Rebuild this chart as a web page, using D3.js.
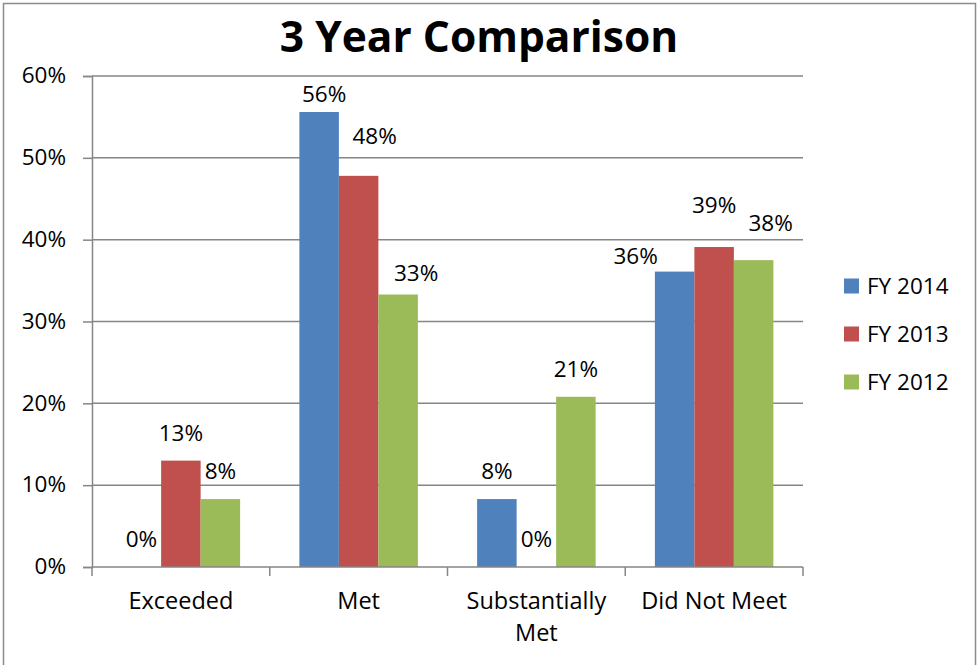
<!DOCTYPE html>
<html>
<head>
<meta charset="utf-8">
<script src="https://cdn.jsdelivr.net/npm/d3@7"></script>
<style>
  body { margin: 0; background: #fff; }
  svg { display: block; font-family: "Open Sans", sans-serif; }
</style>
</head>
<body>
<div id="chart"></div>
<script>
// data
const categories = ["Exceeded", "Met", "Substantially Met", "Did Not Meet"];
const seriesNames = ["FY 2014", "FY 2013", "FY 2012"];
const fy2014 = [0, 55.6, 8.3, 36.1];
const fy2013 = [13.0, 47.8, 0, 39.1];
const fy2012 = [8.3, 33.3, 20.8, 37.5];
const yTicks = [0, 10, 20, 30, 40, 50, 60];
const colours = ["#4F81BD", "#C0504D", "#9BBB59"];

// labels that were dragged by hand in the original, keyed "category|series": [dx, gap above bar]
const labelNudges = {
  "Met|FY 2014": [5, 10],
  "Met|FY 2013": [16, 32],
  "Met|FY 2012": [18, 13],
  "Did Not Meet|FY 2014": [-39, 8],
  "Did Not Meet|FY 2013": [0, 34],
  "Did Not Meet|FY 2012": [17, 29]
};

const seriesValues = [fy2014, fy2013, fy2012];
const width = 979, height = 665;
const margin = {top: 76, right: 176, bottom: 98, left: 92};
const grey = "#868686";

const svg = d3.select("#chart").append("svg")
    .attr("width", width)
    .attr("height", height);

// outer frame
svg.append("rect")
    .attr("x", 3.5).attr("y", 3.5)
    .attr("width", 972).attr("height", 670)
    .attr("fill", "none")
    .attr("stroke", "#8c8c8c")
    .attr("stroke-width", 1.5);

const x0 = d3.scaleBand()
    .domain(categories)
    .range([margin.left, width - margin.right]);

const x1 = d3.scaleBand()
    .domain(seriesNames)
    .range([0, x0.bandwidth()])
    .paddingInner(0)
    .paddingOuter(0.75);

const y = d3.scaleLinear()
    .domain([0, 60])
    .range([height - margin.bottom, margin.top]);

// gridlines
svg.append("g")
  .selectAll("line")
  .data(yTicks.filter(d => d > 0))
  .enter().append("line")
    .attr("x1", margin.left)
    .attr("x2", width - margin.right)
    .attr("y1", d => y(d))
    .attr("y2", d => y(d))
    .attr("stroke", grey)
    .attr("stroke-width", 1.5);

// bars
const rows = [];
categories.forEach((c, i) => {
  seriesNames.forEach((s, j) => {
    rows.push({cat: c, series: s, value: seriesValues[j][i], colour: colours[j]});
  });
});

svg.append("g")
  .selectAll("rect")
  .data(rows)
  .enter().append("rect")
    .attr("x", d => x0(d.cat) + x1(d.series))
    .attr("width", x1.bandwidth())
    .attr("y", d => y(d.value))
    .attr("height", d => y(0) - y(d.value))
    .attr("fill", d => d.colour);

// data labels
const nudge = d => labelNudges[d.cat + "|" + d.series] || [0, 20];
svg.append("g")
  .selectAll("text")
  .data(rows)
  .enter().append("text")
    .attr("x", d => x0(d.cat) + x1(d.series) + x1.bandwidth() / 2 + nudge(d)[0])
    .attr("y", d => y(d.value) - nudge(d)[1])
    .attr("text-anchor", "middle")
    .attr("font-size", 22.5)
    .attr("fill", "#000")
    .text(d => Math.round(d.value) + "%");

// Y axis
const yAxis = svg.append("g")
    .attr("transform", "translate(" + margin.left + ",0)")
    .call(d3.axisLeft(y).tickValues(yTicks).tickSize(9).tickFormat(d => d + "%"));
yAxis.select(".domain").attr("stroke", grey).attr("stroke-width", 1.5);
yAxis.selectAll(".tick line").attr("stroke", grey).attr("stroke-width", 1.5);
yAxis.selectAll(".tick text")
    .attr("x", -26)
    .attr("dy", "0.3em")
    .attr("font-size", 22.5)
    .attr("font-family", "Open Sans, sans-serif")
    .attr("fill", "#000");

// X axis
const xAxis = svg.append("g")
    .attr("transform", "translate(0," + y(0) + ")");
xAxis.append("line")
    .attr("x1", margin.left).attr("x2", width - margin.right)
    .attr("stroke", grey).attr("stroke-width", 1.5);
const xBounds = categories.map(c => x0(c)).concat([x0(categories[categories.length - 1]) + x0.bandwidth()]);
xAxis.selectAll(".xtick")
  .data(xBounds)
  .enter().append("line")
    .attr("x1", d => d).attr("x2", d => d)
    .attr("y1", 0).attr("y2", 9)
    .attr("stroke", grey).attr("stroke-width", 1.5);

const catLines = {"Substantially Met": ["Substantially", "Met"]};
xAxis.selectAll(".cat")
  .data(categories)
  .enter().append("text")
    .attr("text-anchor", "middle")
    .attr("font-size", 23.5)
    .attr("fill", "#000")
    .each(function(d) {
      const lines = catLines[d] || [d];
      d3.select(this).selectAll("tspan")
        .data(lines)
        .enter().append("tspan")
          .attr("x", x0(d) + x0.bandwidth() / 2)
          .attr("y", (l, i) => 42 + i * 32)
          .text(l => l);
    });

// title
svg.append("text")
    .attr("x", 479)
    .attr("y", 52)
    .attr("text-anchor", "middle")
    .attr("font-size", 42.5)
    .attr("font-weight", "bold")
    .attr("fill", "#000")
    .text("3 Year Comparison");

// legend
const legend = svg.append("g")
  .selectAll("g")
  .data(seriesNames)
  .enter().append("g")
    .attr("transform", (d, i) => "translate(844," + (286 + i * 48) + ")");
legend.append("rect")
    .attr("x", 0).attr("y", -7.5)
    .attr("width", 15).attr("height", 15)
    .attr("fill", (d, i) => colours[i]);
legend.append("text")
    .attr("x", 23)
    .attr("y", 7.5)
    .attr("font-size", 22.5)
    .attr("fill", "#000")
    .text(d => d);
</script>
</body>
</html>
